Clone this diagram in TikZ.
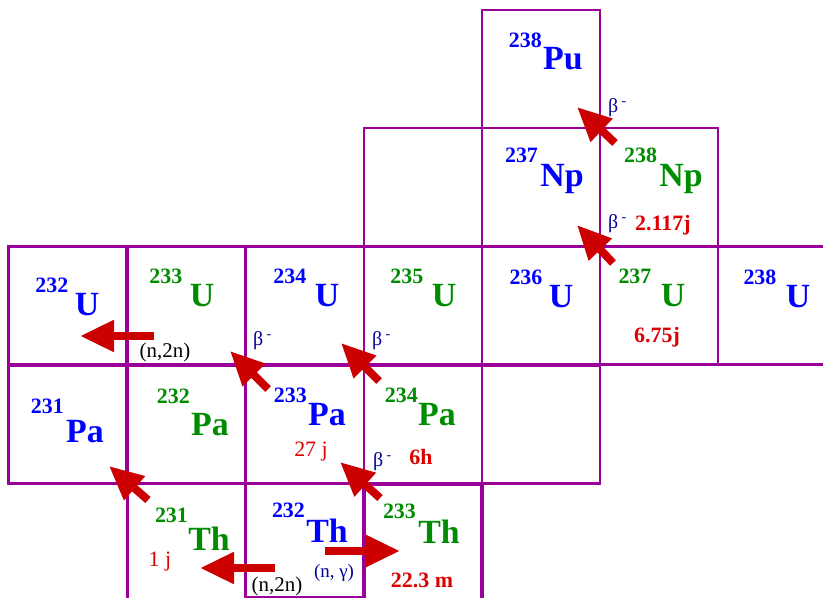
\documentclass[tikz,border=0pt]{standalone}
\usepackage{fontspec}
\setmainfont{Liberation Serif}
\usepackage{xcolor}
\usetikzlibrary{arrows.meta,positioning}

\definecolor{gridpurple}{RGB}{153,0,153}
\definecolor{isoblue}{RGB}{0,0,255}
\definecolor{isogreen}{RGB}{0,140,0}
\definecolor{arrowred}{RGB}{204,0,0}
\definecolor{textred}{RGB}{221,0,0}
\definecolor{betablue}{RGB}{0,0,153}

\begin{document}
\begin{tikzpicture}[
    x=1bp, y=-1bp,
    cell/.style={draw=gridpurple, line width=2.5bp, minimum width=118bp, minimum height=118bp, inner sep=0pt},
    sym/.style={font=\fontsize{34}{34}\selectfont\bfseries, inner sep=0pt, anchor=base},
    mass/.style={font=\fontsize{22}{22}\selectfont\bfseries, inner sep=0pt},
    life/.style={font=\fontsize{22}{22}\selectfont\bfseries, text=textred, inner sep=0pt},
    beta/.style={font=\fontsize{20}{20}\selectfont, text=betablue, inner sep=0pt, anchor=west},
    react/.style={font=\fontsize{21}{21}\selectfont, inner sep=0pt},
    flow/.style={draw=arrowred, line width=8bp, -{Triangle[length=34bp,width=30bp]}}
  ]
  \useasboundingbox (0,0) rectangle (823,598);

  % the grid of cells
  \node[cell] (c238pu) at (541,69) {};
  \node[cell] (cgapnp) at (423,187) {};
  \node[cell] (c237np) at (541,187) {};
  \node[cell] (c238np) at (659,187) {};
  \node[cell] (c232u) at (67.5,305.5) {};
  \node[cell] (c233u) at (186.5,305.5) {};
  \node[cell] (c234u) at (305,305.5) {};
  \node[cell] (c235u) at (423,305.5) {};
  \node[cell] (c236u) at (541,305.5) {};
  \node[cell] (c237u) at (659,305.5) {};
  \node[cell] (c238u) at (777,305.5) {};
  \node[cell] (c231pa) at (67.5,424.5) {};
  \node[cell] (c232pa) at (186.5,424.5) {};
  \node[cell] (c233pa) at (305,424.5) {};
  \node[cell] (c234pa) at (423,424.5) {};
  \node[cell] (cgappa) at (541,424.5) {};
  \node[cell] (c231th) at (186.5,543) {};
  \node[cell, minimum height=113bp, line width=1.5bp] (c232th) at (305,540.5) {};
  \node[cell, line width=4.5bp] (c233th) at (423,543) {};

  % arrow ends
  \coordinate (u233out) at (154,336);
  \coordinate (u232in) at (80,336);
  \coordinate (pa233out) at (268,389);
  \coordinate (u234in) at (230,351);
  \coordinate (pa234out) at (379,381);
  \coordinate (u235in) at (341,343);
  \coordinate (th233out) at (380,498);
  \coordinate (pa234in) at (340,462);
  \coordinate (th231out) at (148,500);
  \coordinate (pa231in) at (109,466);
  \coordinate (th232left) at (275,568);
  \coordinate (th231in) at (200,568);
  \coordinate (th232right) at (325,551);
  \coordinate (th233in) at (400,551);
  \coordinate (u237out) at (613,263);
  \coordinate (np237in) at (577,225);
  \coordinate (np238out) at (615,143);
  \coordinate (pu238in) at (577,107);

  \draw[flow] (u233out) -- (u232in);
  \draw[flow] (pa233out) -- (u234in);
  \draw[flow] (pa234out) -- (u235in);
  \draw[flow] (th233out) -- (pa234in);
  \draw[flow] (th231out) -- (pa231in);
  \draw[flow] (th232left) -- (th231in);
  \draw[flow] (th232right) -- (th233in);
  \draw[flow] (u237out) -- (np237in);
  \draw[flow] (np238out) -- (pu238in);

  % isotopes
  \node[sym, text=isoblue] (pu238) at (563,70) {Pu};
  \node[mass, text=isoblue, above left=0bp and 1bp of pu238] (pu238m) {238};
  \node[sym, text=isoblue] (np237) at (562,187) {Np};
  \node[mass, text=isoblue, above left=2bp and 2bp of np237] (np237m) {237};
  \node[sym, text=isogreen] (np238) at (681,187) {Np};
  \node[mass, text=isogreen, above left=2bp and 2bp of np238] (np238m) {238};

  \node[sym, text=isoblue] (u232) at (87,315) {U};
  \node[mass, text=isoblue, above left=0bp and 6bp of u232] (u232m) {232};
  \node[sym, text=isogreen] (u233) at (202,306) {U};
  \node[mass, text=isogreen, above left=0bp and 7bp of u233] (u233m) {233};
  \node[sym, text=isoblue] (u234) at (327,306) {U};
  \node[mass, text=isoblue, above left=0bp and 8bp of u234] (u234m) {234};
  \node[sym, text=isogreen] (u235) at (444,306) {U};
  \node[mass, text=isogreen, above left=0bp and 8bp of u235] (u235m) {235};
  \node[sym, text=isoblue] (u236) at (561,307) {U};
  \node[mass, text=isoblue, above left=0bp and 6bp of u236] (u236m) {236};
  \node[sym, text=isogreen] (u237) at (673,306) {U};
  \node[mass, text=isogreen, above left=0bp and 9bp of u237] (u237m) {237};
  \node[sym, text=isoblue] (u238) at (798,307) {U};
  \node[mass, text=isoblue, above left=0bp and 9bp of u238] (u238m) {238};

  \node[sym, text=isoblue] (pa231) at (85,442) {Pa};
  \node[mass, text=isoblue, above left=6bp and 2bp of pa231] (pa231m) {231};
  \node[sym, text=isogreen] (pa232) at (210,435) {Pa};
  \node[mass, text=isogreen, above left=9bp and 1bp of pa232] (pa232m) {232};
  \node[sym, text=isoblue] (pa233) at (327,425) {Pa};
  \node[mass, text=isoblue, above left=0bp and 1bp of pa233] (pa233m) {233};
  \node[sym, text=isogreen] (pa234) at (437,425) {Pa};
  \node[mass, text=isogreen, above left=0bp and 0bp of pa234] (pa234m) {234};

  \node[sym, text=isogreen] (th231) at (209,550) {Th};
  \node[mass, text=isogreen, above left=3bp and 0bp of th231] (th231m) {231};
  \node[sym, text=isoblue] (th232) at (327,542) {Th};
  \node[mass, text=isoblue, above left=0bp and 1bp of th232] (th232m) {232};
  \node[sym, text=isogreen] (th233) at (439,543) {Th};
  \node[mass, text=isogreen, above left=0bp and 2bp of th233] (th233m) {233};

  % decays, half-lives and reactions
  \node[beta] (b1) at (608,108) {β\,\textsuperscript{-}};
  \node[beta] (b2) at (608,224) {β\,\textsuperscript{-}};
  \node[life, anchor=west] (t2117) at (635,225) {2.117j};
  \node[beta] (b3) at (253,341) {β\,\textsuperscript{-}};
  \node[beta] (b4) at (372,341) {β\,\textsuperscript{-}};
  \node[beta] (b5) at (373,462) {β\,\textsuperscript{-}};
  \node[life] (t6h) at (421,457) {6h};
  \node[life] (t675) at (657,337) {6.75j};
  \node[life, font=\fontsize{22}{22}\selectfont] (t27) at (311,452) {27 j};
  \node[life, font=\fontsize{22}{22}\selectfont] (t1) at (160,562) {1 j};
  \node[life] (t223) at (422,580) {22.3 m};
  \node[react] (r1) at (165,352) {(n,2n)};
  \node[react] (r2) at (277,586) {(n,2n)};
  \node[react, text=betablue, font=\fontsize{19}{19}\selectfont] (r3) at (334,573) {(n, γ)};
\end{tikzpicture}
\end{document}
